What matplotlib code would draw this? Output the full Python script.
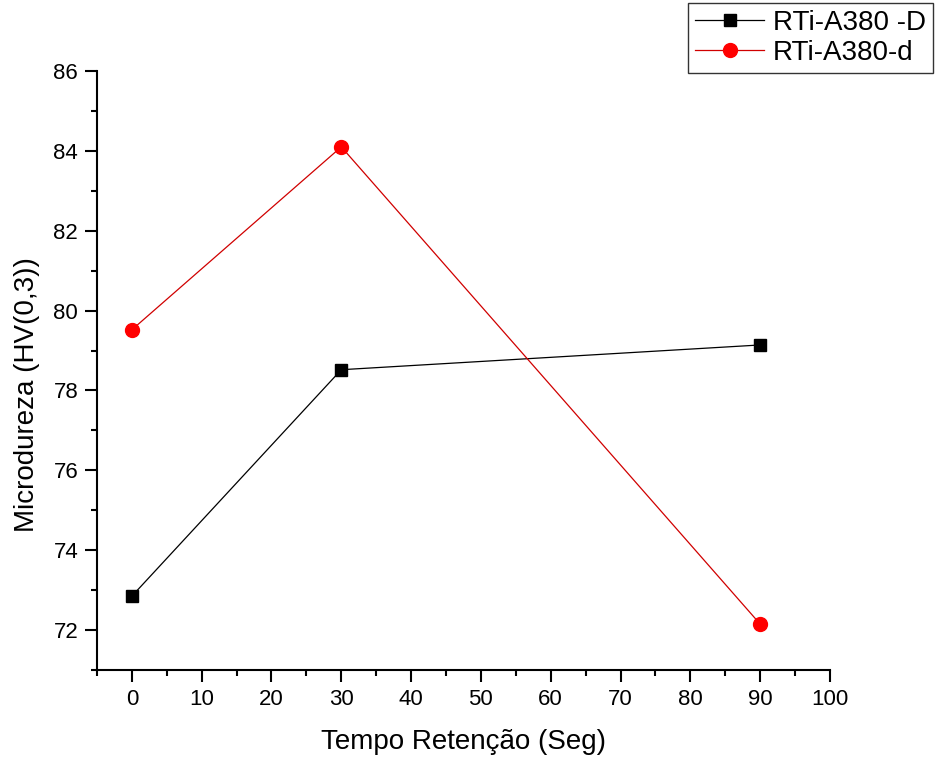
import matplotlib
matplotlib.use("Agg")
import matplotlib.pyplot as plt
from matplotlib.ticker import MultipleLocator

plt.rcParams['font.family'] = ['Liberation Sans', 'DejaVu Sans']

tempo = [0, 30, 90]
dureza_D = [72.85, 78.52, 79.14]
dureza_d = [79.52, 84.1, 72.15]

fig = plt.figure(figsize=(9.35, 7.57), dpi=100)
ax = fig.add_axes([0.1037, 0.1149, 0.7840, 0.7913])

ax.plot(tempo, dureza_D, color='black', lw=0.9, marker='s', ms=9, label='RTi-A380 -D')
ax.plot(tempo, dureza_d, color='#d00000', lw=0.9, marker='o', ms=10,
        mfc='red', mec='red', label='RTi-A380-d')

ax.set_xlim(-5, 100)
ax.set_ylim(71, 86)
ax.xaxis.set_major_locator(MultipleLocator(10))
ax.xaxis.set_minor_locator(MultipleLocator(5))
ax.yaxis.set_major_locator(MultipleLocator(2))
ax.yaxis.set_minor_locator(MultipleLocator(1))

for s in ['top', 'right']:
    ax.spines[s].set_visible(False)
ax.spines['left'].set_linewidth(1.5)
ax.spines['bottom'].set_linewidth(1.5)
ax.tick_params(which='major', direction='out', length=8.5, width=1.5, labelsize=16, pad=5)
ax.tick_params(which='minor', direction='out', length=4, width=1.5)

ax.set_xlabel('Tempo Retenção (Seg)', fontsize=20, labelpad=14)
ax.set_ylabel('Microdureza (HV(0,3))', fontsize=20, labelpad=10, y=0.46)

leg = fig.legend(loc='upper left', bbox_to_anchor=(688/935, 1 - 3/757),
                 fontsize=20, frameon=True, fancybox=False, edgecolor='black',
                 handlelength=2.5, borderpad=0.25, labelspacing=0.15, handletextpad=0.3,
                 borderaxespad=0)
leg.get_frame().set_linewidth(1.0)

fig.savefig('out.png', dpi=100)
